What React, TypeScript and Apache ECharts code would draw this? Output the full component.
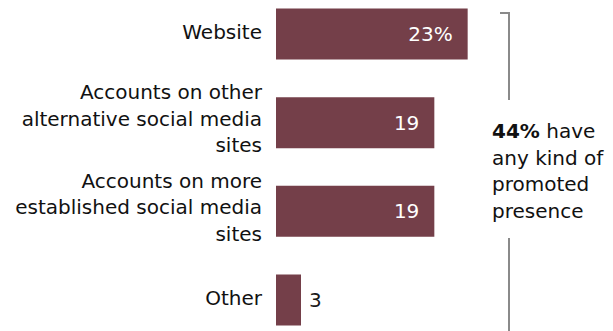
import React, { useEffect, useRef } from "react";
import * as echarts from "echarts";

const categories = [
  "Website",
  "Accounts on other\nalternative social media\nsites",
  "Accounts on more\nestablished social media\nsites",
  "Other",
];
const values = [23, 19, 19, 3];
const valueLabels = ["23%", "19", "19", "3"];
const annotationBold = "44%";
const annotationRest = " have\nany kind of\npromoted\npresence";

const FONT = "DejaVu Sans";
const BAR = "#743f49";

export default function App() {
  const ref = useRef<HTMLDivElement>(null);
  useEffect(() => {
    if (!ref.current) return;
    const chart = echarts.init(ref.current, null, { renderer: "svg" });
    const data = values.map((v, i) => ({
      value: v,
      label:
        v >= 10
          ? { show: true, position: "insideRight", distance: 15, color: "#ffffff", formatter: valueLabels[i] }
          : { show: true, position: "right", distance: 8, color: "#1a1a1a", formatter: valueLabels[i] },
    }));
    const lines = annotationRest.split("\n");
    chart.setOption({
      animation: false,
      grid: { left: 276, right: 87, top: 34, bottom: 31, containLabel: false },
      xAxis: {
        type: "value",
        min: 0,
        max: 30,
        show: false,
      },
      yAxis: {
        type: "category",
        data: categories,
        inverse: true,
        boundaryGap: false,
        axisLine: { show: false },
        axisTick: { show: false },
        splitLine: { show: false },
        axisLabel: {
          margin: 14,
          align: "right",
          formatter: (v: string) => {
            const ls = v.split("\n");
            const pad = ls.length > 1 ? 8 : 5;
            return ls.map((s) => "{t|" + s + "}").join("\n") + "\n{s" + pad + "| }";
          },
          rich: {
            t: { fontFamily: FONT, fontSize: 20, lineHeight: 26.5, color: "#111111", align: "right" },
            s8: { fontSize: 1, lineHeight: 8 },
            s5: { fontSize: 1, lineHeight: 5 },
          },
        },
      },
      series: [
        {
          type: "bar",
          data,
          barWidth: 51,
          itemStyle: { color: BAR },
          label: { fontFamily: FONT, fontSize: 20 },
        },
      ],
      graphic: [
        {
          type: "polyline",
          shape: { points: [[500, 13], [509, 13], [509, 100]] },
          style: { stroke: "#8a8a8a", lineWidth: 2, fill: null },
        },
        {
          type: "line",
          shape: { x1: 509, y1: 238, x2: 509, y2: 331 },
          style: { stroke: "#8a8a8a", lineWidth: 2 },
        },
        {
          type: "text",
          x: 492,
          y: 118,
          style: {
            text: "{b|" + annotationBold + "}{r|" + lines[0] + "}\n" +
              lines.slice(1).map((s) => "{r|" + s + "}").join("\n"),
            rich: {
              b: { fontFamily: FONT, fontSize: 20, fontWeight: "bold", lineHeight: 26.5, fill: "#111111", color: "#111111" },
              r: { fontFamily: FONT, fontSize: 20, lineHeight: 26.5, fill: "#111111", color: "#111111" },
            },
            fill: "#111111",
            align: "left",
            verticalAlign: "top",
          },
        },
      ],
    });
    return () => chart.dispose();
  }, []);
  return <div ref={ref} style={{ width: 613, height: 331, position: "absolute", left: 0, top: 0 }} />;
}
